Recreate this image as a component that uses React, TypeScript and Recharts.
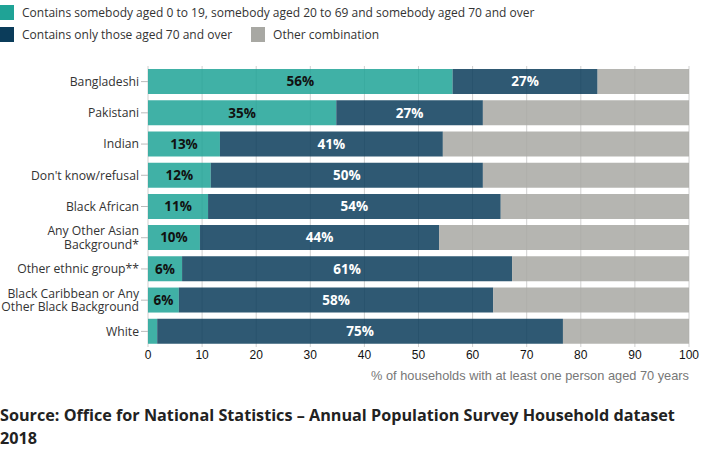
import React from "react";
import {
  BarChart,
  Bar,
  XAxis,
  YAxis,
  CartesianGrid,
  LabelList,
} from "recharts";

const categories = [
  "Bangladeshi",
  "Pakistani",
  "Indian",
  "Don't know/refusal",
  "Black African",
  "Any Other Asian\nBackground*",
  "Other ethnic group**",
  "Black Caribbean or Any\nOther Black Background",
  "White",
];

const allAges = [56.3, 34.8, 13.3, 11.6, 11.1, 9.6, 6.3, 5.7, 1.7];
const only70Plus = [26.8, 27.1, 41.2, 50.3, 54.1, 44.2, 61.0, 58.1, 75.0];
const otherCombo = [16.9, 38.1, 45.5, 38.1, 34.8, 46.2, 32.7, 36.2, 23.3];

const xTicks = [0, 10, 20, 30, 40, 50, 60, 70, 80, 90, 100];

const TEAL = "#1fa396";
const NAVY = "#0b3c5a";
const GREY = "#a8a8a3";

const data = categories.map((name, i) => ({
  name,
  allAges: allAges[i],
  only70Plus: only70Plus[i],
  otherCombo: otherCombo[i],
}));

const sans = "'Open Sans', sans-serif";
const arial = "'Liberation Sans', Arial, sans-serif";

function CategoryTick(props: any) {
  const { x, y, payload } = props;
  const lines = String(payload.value).split("\n");
  const lh = 13.5;
  const start = -((lines.length - 1) * lh) / 2;
  return (
    <text
      x={x}
      y={y}
      textAnchor="end"
      fontFamily={sans}
      fontSize={12.2}
      fill="#333"
    >
      {lines.map((l, i) => (
        <tspan key={i} x={x} y={y + start + i * lh} dy="0.35em">
          {l}
        </tspan>
      ))}
    </text>
  );
}

const makeLabel = (color: string) => (props: any) => {
  const { x, y, width, height, value } = props;
  if (value < 5) return null;
  return (
    <text
      x={x + width / 2}
      y={y + height / 2}
      dy="0.36em"
      textAnchor="middle"
      fontFamily={sans}
      fontWeight={700}
      fontSize={13.5}
      fill={color}
    >
      {Math.round(value)}%
    </text>
  );
};

function Swatch({ color }: { color: string }) {
  return (
    <span
      style={{
        display: "inline-block",
        width: 14,
        height: 15,
        background: color,
        marginRight: 8,
        verticalAlign: "middle",
      }}
    />
  );
}

export default function App() {
  return (
    <div
      style={{
        position: "absolute",
        left: 0,
        top: 0,
        width: 713,
        height: 452,
        background: "#fff",
        fontFamily: sans,
      }}
    >
      <div style={{ position: "absolute", left: 0, top: 4, fontSize: 12, color: "#333" }}>
        <div style={{ height: 22, lineHeight: "15px" }}>
          <Swatch color={TEAL} />
          <span style={{ verticalAlign: "middle" }}>
            Contains somebody aged 0 to 19, somebody aged 20 to 69 and somebody aged 70 and over
          </span>
        </div>
        <div style={{ height: 22, lineHeight: "15px" }}>
          <Swatch color={NAVY} />
          <span style={{ verticalAlign: "middle", marginRight: 19 }}>
            Contains only those aged 70 and over
          </span>
          <Swatch color={GREY} />
          <span style={{ verticalAlign: "middle" }}>Other combination</span>
        </div>
      </div>

      <div style={{ position: "absolute", left: 0, top: 0 }}>
        <BarChart
          width={713}
          height={390}
          data={data}
          layout="vertical"
          margin={{ top: 66, right: 24, bottom: 13, left: 0 }}
          barCategoryGap={3}
        >
          <CartesianGrid horizontal={false} stroke="#d0d0d0" />
          <XAxis
            type="number"
            domain={[0, 100]}
            ticks={xTicks}
            interval={0}
            height={30}
            axisLine={false}
            tickLine={false}
            tickSize={3}
            tickMargin={0}
            tick={{ fontSize: 12, fill: "#111", fontFamily: arial }}
          />
          <YAxis
            type="category"
            dataKey="name"
            width={148}
            axisLine={false}
            tickLine={{ stroke: "#bbb" }}
            tickSize={7}
            tick={<CategoryTick />}
            interval={0}
          />
          <Bar dataKey="allAges" stackId="a" fill={TEAL} fillOpacity={0.85} isAnimationActive={false}>
            <LabelList dataKey="allAges" content={makeLabel("#111")} />
          </Bar>
          <Bar dataKey="only70Plus" stackId="a" fill={NAVY} fillOpacity={0.85} isAnimationActive={false}>
            <LabelList dataKey="only70Plus" content={makeLabel("#fff")} />
          </Bar>
          <Bar dataKey="otherCombo" stackId="a" fill={GREY} fillOpacity={0.85} isAnimationActive={false} />
        </BarChart>
      </div>

      <div
        style={{
          position: "absolute",
          right: 24,
          top: 368,
          fontSize: 12.8,
          color: "#777",
          fontFamily: arial,
        }}
      >
        % of households with at least one person aged 70 years
      </div>

      <div
        style={{
          position: "absolute",
          left: 0,
          top: 404,
          width: 690,
          fontSize: 16.2,
          lineHeight: "23px",
          fontWeight: 700,
          color: "#222",
        }}
      >
        Source: Office for National Statistics – Annual Population Survey Household dataset 2018
      </div>
    </div>
  );
}
